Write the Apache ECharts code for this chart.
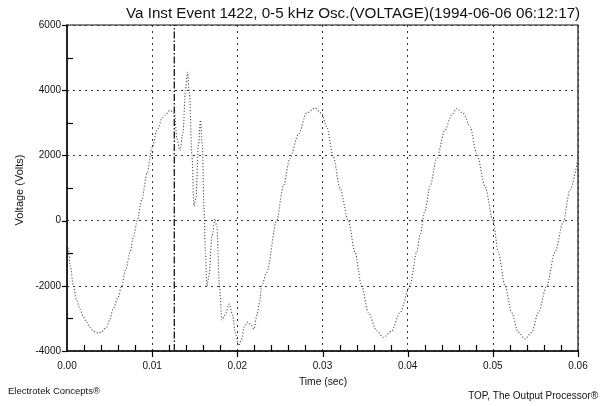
<!DOCTYPE html>
<html>
<head>
<meta charset="utf-8">
<script src="https://cdn.jsdelivr.net/npm/echarts@6/dist/echarts.min.js"></script>
<style>
  html, body { margin: 0; padding: 0; background: #fff; }
  #chart { width: 604px; height: 406px; }
</style>
</head>
<body>
<div id="chart"></div>
<script>
// Phase A instantaneous voltage, capacitor switching transient
const titleText = 'Va Inst Event 1422, 0-5 kHz Osc.(VOLTAGE)(1994-06-06 06:12:17)';
const xAxisTitle = 'Time (sec)';
const yAxisTitle = 'Voltage (Volts)';
const footerLeft = 'Electrotek Concepts®';
const footerRight = 'TOP, The Output Processor®';

// sample times (s)
const timeSec = [
  0.0000, 0.00015, 0.0004, 0.00074, 0.0011, 0.00153, 0.0019, 0.00231, 0.0027, 0.00305,
  0.0034, 0.00367, 0.0040, 0.00466, 0.0050, 0.0054, 0.0060, 0.00642, 0.0069, 0.00739,
  0.0078, 0.00825, 0.00877, 0.0094, 0.00998, 0.0106, 0.0112, 0.0115,
  0.01209, 0.01262, 0.01291, 0.01326, 0.01362, 0.01391, 0.01414, 0.01438, 0.01467, 0.01491,
  0.01514, 0.01543, 0.01567, 0.0159, 0.01608, 0.01626, 0.01643, 0.01667, 0.01702, 0.01737,
  0.01761, 0.0179, 0.01819, 0.01854, 0.01907, 0.01943, 0.01978, 0.02015, 0.02048, 0.02083,
  0.02124, 0.0216, 0.02195, 0.0223, 0.02262, 0.02285,
  0.02345, 0.02462, 0.0254, 0.02618, 0.02716, 0.02814, 0.02912, 0.0299, 0.03049, 0.03127,
  0.03205, 0.03303, 0.03382, 0.0346, 0.03538, 0.03636, 0.03714, 0.03813, 0.0391, 0.04027,
  0.04106, 0.04145, 0.04203, 0.04262, 0.04341, 0.04438, 0.04517, 0.04576, 0.04653, 0.04732,
  0.0481, 0.04908, 0.05005, 0.05064, 0.05143, 0.05221, 0.05299, 0.05378, 0.05456, 0.05534,
  0.05632, 0.0573, 0.05827, 0.05906, 0.0600
];

// instantaneous voltage (V)
const voltage = [
  -650, -850, -1400, -2000, -2420, -2720, -2950, -3120, -3280, -3380,
  -3430, -3450, -3420, -3270, -3050, -2720, -2350, -2000, -1500, -980,
  -500, 0, 640, 1450, 2230, 2800, 3150, 3240,
  3380, 3300, 2500, 2150, 2700, 4000, 4550, 3900, 2000, 450,
  700, 2300, 3080, 2300, 400, -1000, -2000, -1700, -500, 50,
  -200, -2000, -3050, -2900, -2560, -2900, -3450, -3840, -3650, -3250,
  -3110, -3200, -3330, -2900, -2500, -2000,
  -1590, 0, 1050, 1910, 2630, 3300, 3450, 3290, 2880, 1960,
  1000, 0, -970, -2000, -2820, -3380, -3580, -3380, -2820, -2000,
  -970, -450, 300, 1050, 1910, 2780, 3240, 3440, 3290, 2880,
  2070, 1050, -40, -970, -2000, -2820, -3430, -3630, -3430, -2820,
  -2000, -970, -40, 950, 1910
];

// switching instant cursor (s)
const cursorTime = 0.0126;

// axis ranges, steps and tick positions
const xRange = [0, 0.06];
const xStep = 0.01;
const yRange = [-4000, 6000];
const yStep = 2000;
const xMajorTicks = [0.01, 0.02, 0.03, 0.04, 0.05, 0.06];
const xMinorTicks = [0.002, 0.004, 0.006, 0.008, 0.012, 0.014, 0.016, 0.018,
                     0.022, 0.024, 0.026, 0.028, 0.032, 0.034, 0.036, 0.038,
                     0.042, 0.044, 0.046, 0.048, 0.052, 0.054, 0.056, 0.058];
const yMajorTicks = [-4000, -2000, 0, 2000, 4000, 6000];
const yMinorTicks = [-3000, -1000, 1000, 3000, 5000];

const points = timeSec.map((t, i) => [t, voltage[i]]);
const cursorPoints = [[cursorTime, yRange[0]], [cursorTime, yRange[1]]];

// tick records: [value, kind]  kind 0 = time major, 1 = time minor, 2 = volt major, 3 = volt minor
const tickRecords = []
  .concat(xMajorTicks.map(v => [v, 0]))
  .concat(xMinorTicks.map(v => [v, 1]))
  .concat(yMajorTicks.map(v => [v, 2]))
  .concat(yMinorTicks.map(v => [v, 3]));

function renderTick(params, api) {
  const v = api.value(0);
  const kind = api.value(1);
  let x1, y1, x2, y2;
  if (kind < 2) {
    const p = api.coord([v, yRange[0]]);
    x1 = x2 = Math.round(p[0]) + 0.5;
    y1 = Math.round(p[1]);
    y2 = kind === 0 ? y1 + 6 : y1 - 6;
  } else {
    const p = api.coord([xRange[0], v]);
    y1 = y2 = Math.round(p[1]) + 0.5;
    x1 = Math.round(p[0]);
    x2 = kind === 2 ? x1 - 5 : x1 + 6;
  }
  return {
    type: 'line',
    shape: { x1, y1, x2, y2 },
    style: { stroke: '#000', lineWidth: 1.2 },
    z2: 10
  };
}

const chart = echarts.init(document.getElementById('chart'), null, { renderer: 'canvas' });
const FONT = 'Liberation Sans, Arial, sans-serif';
const gridDash = [2, 4];

chart.setOption({
  animation: false,
  backgroundColor: '#fff',
  textStyle: { fontFamily: FONT, color: '#111' },
  title: {
    text: titleText,
    left: 121,
    top: 1,
    textStyle: { fontFamily: FONT, fontSize: 15.2, fontWeight: 'normal', color: '#111' }
  },
  grid: {
    left: 67, right: 26, top: 25, bottom: 55,
    show: true, borderColor: '#111', borderWidth: 1.2, backgroundColor: 'transparent'
  },
  xAxis: {
    type: 'value', min: xRange[0], max: xRange[1], interval: xStep, position: 'bottom',
    axisLine: { show: true, onZero: false, lineStyle: { color: '#111', width: 1.5 } },
    axisTick: { show: false },
    axisLabel: { margin: 10, fontSize: 10, color: '#111', fontFamily: FONT,
                 formatter: v => v.toFixed(2) },
    splitLine: { show: true, lineStyle: { type: gridDash, color: '#333', width: 1 } }
  },
  yAxis: {
    type: 'value', min: yRange[0], max: yRange[1], interval: yStep, position: 'left',
    axisLine: { show: true, onZero: false, lineStyle: { color: '#111', width: 1.5 } },
    axisTick: { show: false },
    axisLabel: { margin: 6, fontSize: 10, color: '#111', fontFamily: FONT,
                 formatter: v => String(v) },
    splitLine: { show: true, lineStyle: { type: gridDash, color: '#333', width: 1 } }
  },
  series: [
    {
      name: 'Va',
      type: 'line',
      data: points,
      showSymbol: false,
      smooth: 0.3,
      smoothMonotone: 'x',
      lineStyle: { color: '#555', width: 1.1, type: [1.2, 1.8] },
      z: 3
    },
    {
      name: 'cursor',
      type: 'line',
      data: cursorPoints,
      showSymbol: false,
      silent: true,
      lineStyle: { color: '#222', width: 1.4, type: [7, 2, 1.5, 2] },
      z: 2
    },
    {
      name: 'ticks',
      type: 'custom',
      data: tickRecords,
      renderItem: renderTick,
      clip: false,
      silent: true,
      encode: { x: -1, y: -1 },
      z: 20
    }
  ],
  graphic: [
    {
      type: 'text', x: 20, y: 190, rotation: Math.PI / 2,
      style: { text: yAxisTitle, font: '11px ' + FONT, fill: '#111',
               textAlign: 'center', textVerticalAlign: 'middle' }
    },
    {
      type: 'text', x: 323, y: 382,
      style: { text: xAxisTitle, font: '10.3px ' + FONT, fill: '#111',
               textAlign: 'center', textVerticalAlign: 'middle' }
    },
    {
      type: 'text', x: 8, y: 391,
      style: { text: footerLeft, font: '9.5px ' + FONT, fill: '#111',
               textAlign: 'left', textVerticalAlign: 'middle' }
    },
    {
      type: 'text', x: 598, y: 396,
      style: { text: footerRight, font: '10px ' + FONT, fill: '#111',
               textAlign: 'right', textVerticalAlign: 'middle' }
    }
  ]
});
</script>
</body>
</html>
